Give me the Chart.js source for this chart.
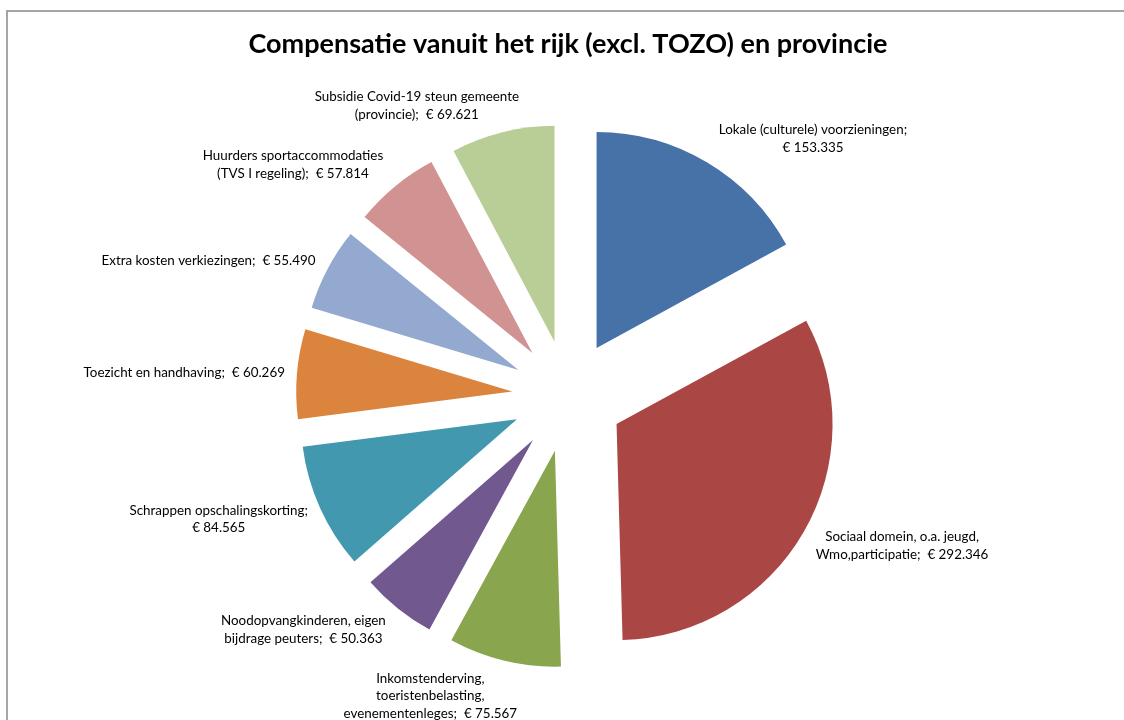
<!DOCTYPE html>
<html>
<head>
<meta charset="utf-8">
<title>Compensatie vanuit het rijk</title>
<script src="https://cdn.jsdelivr.net/npm/chart.js@4"></script>
<style>
  html, body { margin: 0; padding: 0; background: #fff; overflow: hidden; }
  #wrap { position: relative; width: 1124px; height: 720px; }
  #frame { position: absolute; left: 6px; top: 10px; width: 1200px; height: 800px; border: 2px solid #a6a6a6; box-sizing: border-box; }
  canvas { position: absolute; left: 0; top: 0; }
</style>
</head>
<body>
<div id="wrap">
  <div id="frame"></div>
  <canvas id="grafiek" width="1124" height="720"></canvas>
</div>
<script>
// categorieën (met regelafbreking zoals in Excel) en bedragen in euro
const categorieen = [
  'Lokale (culturele) voorzieningen',
  'Sociaal domein, o.a. jeugd,\nWmo,participatie',
  'Inkomstenderving,\ntoeristenbelasting,\nevenementenleges',
  'Noodopvangkinderen, eigen\nbijdrage peuters',
  'Schrappen opschalingskorting',
  'Toezicht en handhaving',
  'Extra kosten verkiezingen',
  'Huurders sportaccommodaties\n(TVS I regeling)',
  'Subsidie Covid-19 steun gemeente\n(provincie)'
];
const bedragen = [153335, 292346, 75567, 50363, 84565, 60269, 55490, 57814, 69621];
const kleuren = ['#4672a8', '#aa4644', '#89a54e', '#71588f', '#4198af', '#db843d', '#93a9cf', '#d19392', '#b9cd96'];

const EXPLODE = 56;     // afstand waarmee elk segment naar buiten geschoven is
const RADIUS = 216;
const labelFont = '13.4px Lato';

function euro(v) {
  return '€ ' + String(v).replace(/\B(?=(\d{3})+(?!\d))/g, '.');
}

// elk segment los van het midden tekenen (exploded pie)
const uitschuiven = {
  id: 'uitschuiven',
  beforeDatasetDraw(chart, args) {
    args.meta.data.forEach(arc => {
      if (arc.$los) return;
      arc.$los = true;
      const teken = arc.draw;
      arc.draw = function (ctx, area) {
        const mid = (this.startAngle + this.endAngle) / 2;
        ctx.save();
        ctx.translate(Math.cos(mid) * EXPLODE, Math.sin(mid) * EXPLODE);
        teken.call(this, ctx, area);
        ctx.restore();
      };
    });
  }
};

// labels buiten de segmenten
const labels = {
  id: 'labels',
  afterDatasetsDraw(chart) {
    const ctx = chart.ctx;
    const meta = chart.getDatasetMeta(0);
    ctx.save();
    ctx.font = labelFont;
    ctx.fillStyle = '#000';
    ctx.textAlign = 'center';
    ctx.textBaseline = 'middle';
    meta.data.forEach((arc, i) => {
      const mid = (arc.startAngle + arc.endAngle) / 2;
      const dx = Math.cos(mid), dy = Math.sin(mid);
      const ox = arc.x + dx * (EXPLODE + arc.outerRadius);
      const oy = arc.y + dy * (EXPLODE + arc.outerRadius);
      const regels = categorieen[i].split('\n');
      const laatste = regels[regels.length - 1] + ';  ' + euro(bedragen[i]);
      if (ctx.measureText(laatste).width > 222) {
        regels[regels.length - 1] += ';';
        regels.push(euro(bedragen[i]));
      } else {
        regels[regels.length - 1] = laatste;
      }
      const w = Math.max(...regels.map(r => ctx.measureText(r).width));
      const lh = 17.5;
      const h = regels.length * lh;
      const f = Math.abs(dx) < 0.4 ? 0.75 : 1;
      const cx = ox + Math.sign(dx) * (w / 2 + 12) * f;
      const cy = oy + dy * (h / 2 + 10);
      regels.forEach((r, k) => {
        ctx.fillText(r, cx, cy - h / 2 + lh / 2 + k * lh);
      });
    });
    ctx.restore();
  }
};

new Chart(document.getElementById('grafiek'), {
  type: 'pie',
  data: {
    labels: categorieen,
    datasets: [{
      data: bedragen,
      backgroundColor: kleuren,
      borderWidth: 0
    }]
  },
  options: {
    responsive: false,
    animation: false,
    radius: RADIUS,
    layout: { padding: { left: 12, right: 0, top: 0, bottom: 0 } },
    plugins: {
      legend: { display: false },
      tooltip: { enabled: false },
      title: {
        display: true,
        text: 'Compensatie vanuit het rijk (excl. TOZO) en provincie',
        color: '#000',
        font: { family: 'Lato', size: 27, weight: 'bold' },
        padding: { top: 28, bottom: 12 }
      }
    }
  },
  plugins: [uitschuiven, labels]
});
</script>
</body>
</html>
